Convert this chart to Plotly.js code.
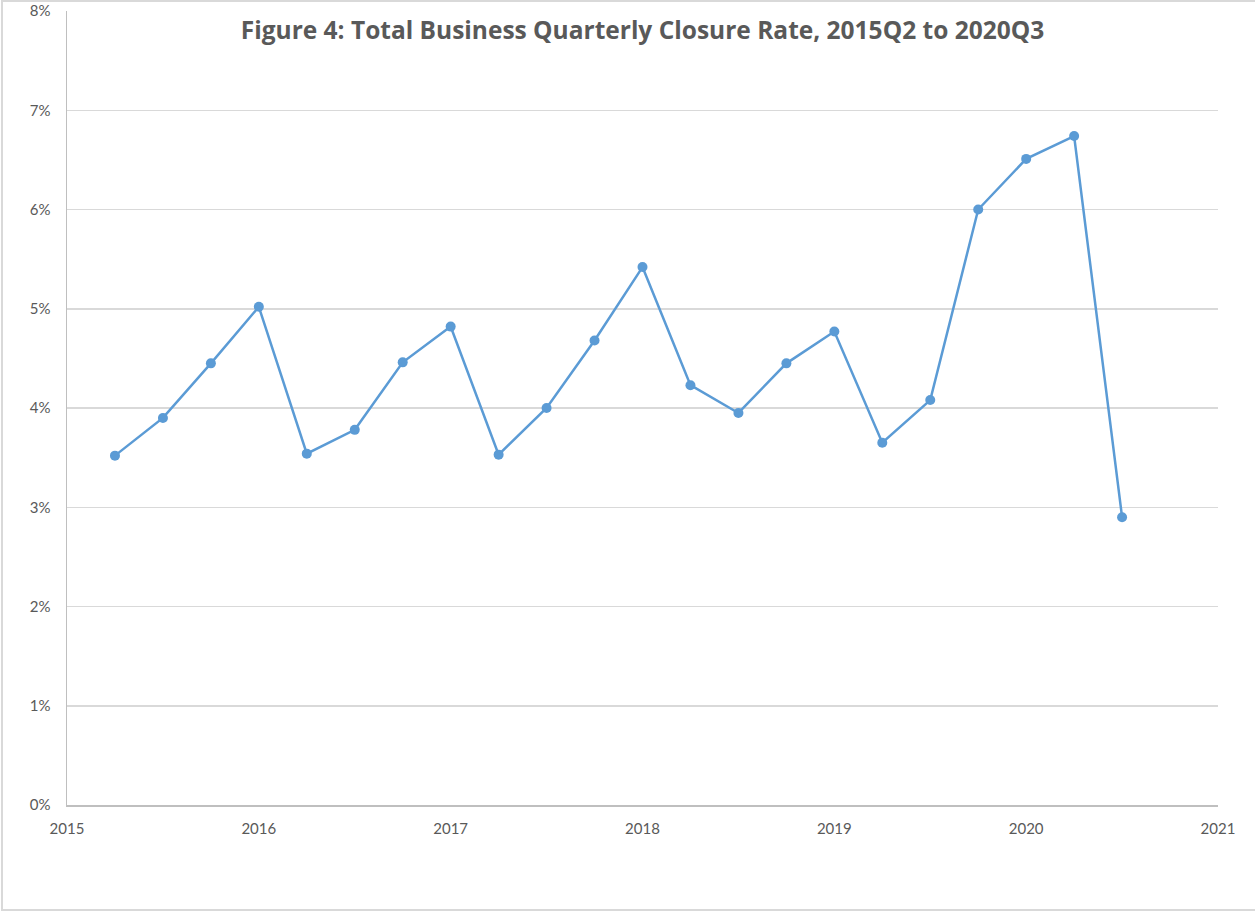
<!DOCTYPE html>
<html>
<head>
<meta charset="utf-8">
<script src="https://cdn.plot.ly/plotly-3.0.1.min.js"></script>
<style>
  html, body { margin: 0; padding: 0; background: #fff; overflow: hidden; }
  #chart { width: 1255px; height: 911px; }
  #frame { position: absolute; left: 1px; top: 0px; width: 1270px; height: 911px;
           border: 2px solid #d9d9d9; pointer-events: none; box-sizing: border-box; }
</style>
</head>
<body>
<div id="chart"></div>
<div id="frame"></div>
<script>
const quarters = [2015.25, 2015.5, 2015.75, 2016, 2016.25, 2016.5, 2016.75, 2017,
                  2017.25, 2017.5, 2017.75, 2018, 2018.25, 2018.5, 2018.75, 2019,
                  2019.25, 2019.5, 2019.75, 2020, 2020.25, 2020.5];
const closureRate = [3.52, 3.90, 4.45, 5.02, 3.54, 3.78, 4.46, 4.82,
                     3.53, 4.00, 4.68, 5.42, 4.23, 3.95, 4.45, 4.77,
                     3.65, 4.08, 6.00, 6.51, 6.74, 2.90];
const yTicks = [0, 1, 2, 3, 4, 5, 6, 7, 8];
const yTickLabels = yTicks.map(v => v + '%');
const xTicks = [2015, 2016, 2017, 2018, 2019, 2020, 2021];

const trace = {
  x: quarters,
  y: closureRate,
  type: 'scatter',
  mode: 'lines+markers',
  line: { color: '#5b9bd5', width: 2.5 },
  marker: { color: '#5b9bd5', size: 10 },
  hoverinfo: 'x+y'
};

const layout = {
  width: 1255, height: 911,
  margin: { l: 67, r: 37, t: 11, b: 106 },
  paper_bgcolor: '#ffffff',
  plot_bgcolor: '#ffffff',
  showlegend: false,
  font: { family: 'Lato, "Open Sans", sans-serif', color: '#595959', size: 15 },
  title: {
    text: '<b>Figure 4: Total Business Quarterly Closure Rate, 2015Q2 to 2020Q3</b>',
    font: { family: '"Open Sans", Lato, sans-serif', size: 24.5, color: '#595959' },
    x: 0.5, xanchor: 'center', xref: 'paper',
    y: 1 - 30 / 911, yanchor: 'middle', yref: 'container'
  },
  xaxis: {
    range: [2015, 2021],
    tickmode: 'array', tickvals: xTicks, ticktext: xTicks.map(String),
    showgrid: false, zeroline: false,
    showline: true, linecolor: '#bfbfbf', linewidth: 1.5,
    ticks: '', ticklen: 0, ticklabelstandoff: 9,
    tickfont: { size: 15, color: '#595959' },
    fixedrange: true
  },
  yaxis: {
    range: [0, 8],
    tickmode: 'array', tickvals: yTicks, ticktext: yTickLabels,
    showgrid: true, gridcolor: '#d9d9d9', gridwidth: 1.5,
    zeroline: false,
    showline: true, linecolor: '#bfbfbf', linewidth: 1.5,
    ticks: '', ticklen: 0, ticklabelstandoff: 12,
    tickfont: { size: 15, color: '#595959' },
    fixedrange: true
  }
};

Plotly.newPlot('chart', [trace], layout, { displayModeBar: false, staticPlot: true });
</script>
</body>
</html>
